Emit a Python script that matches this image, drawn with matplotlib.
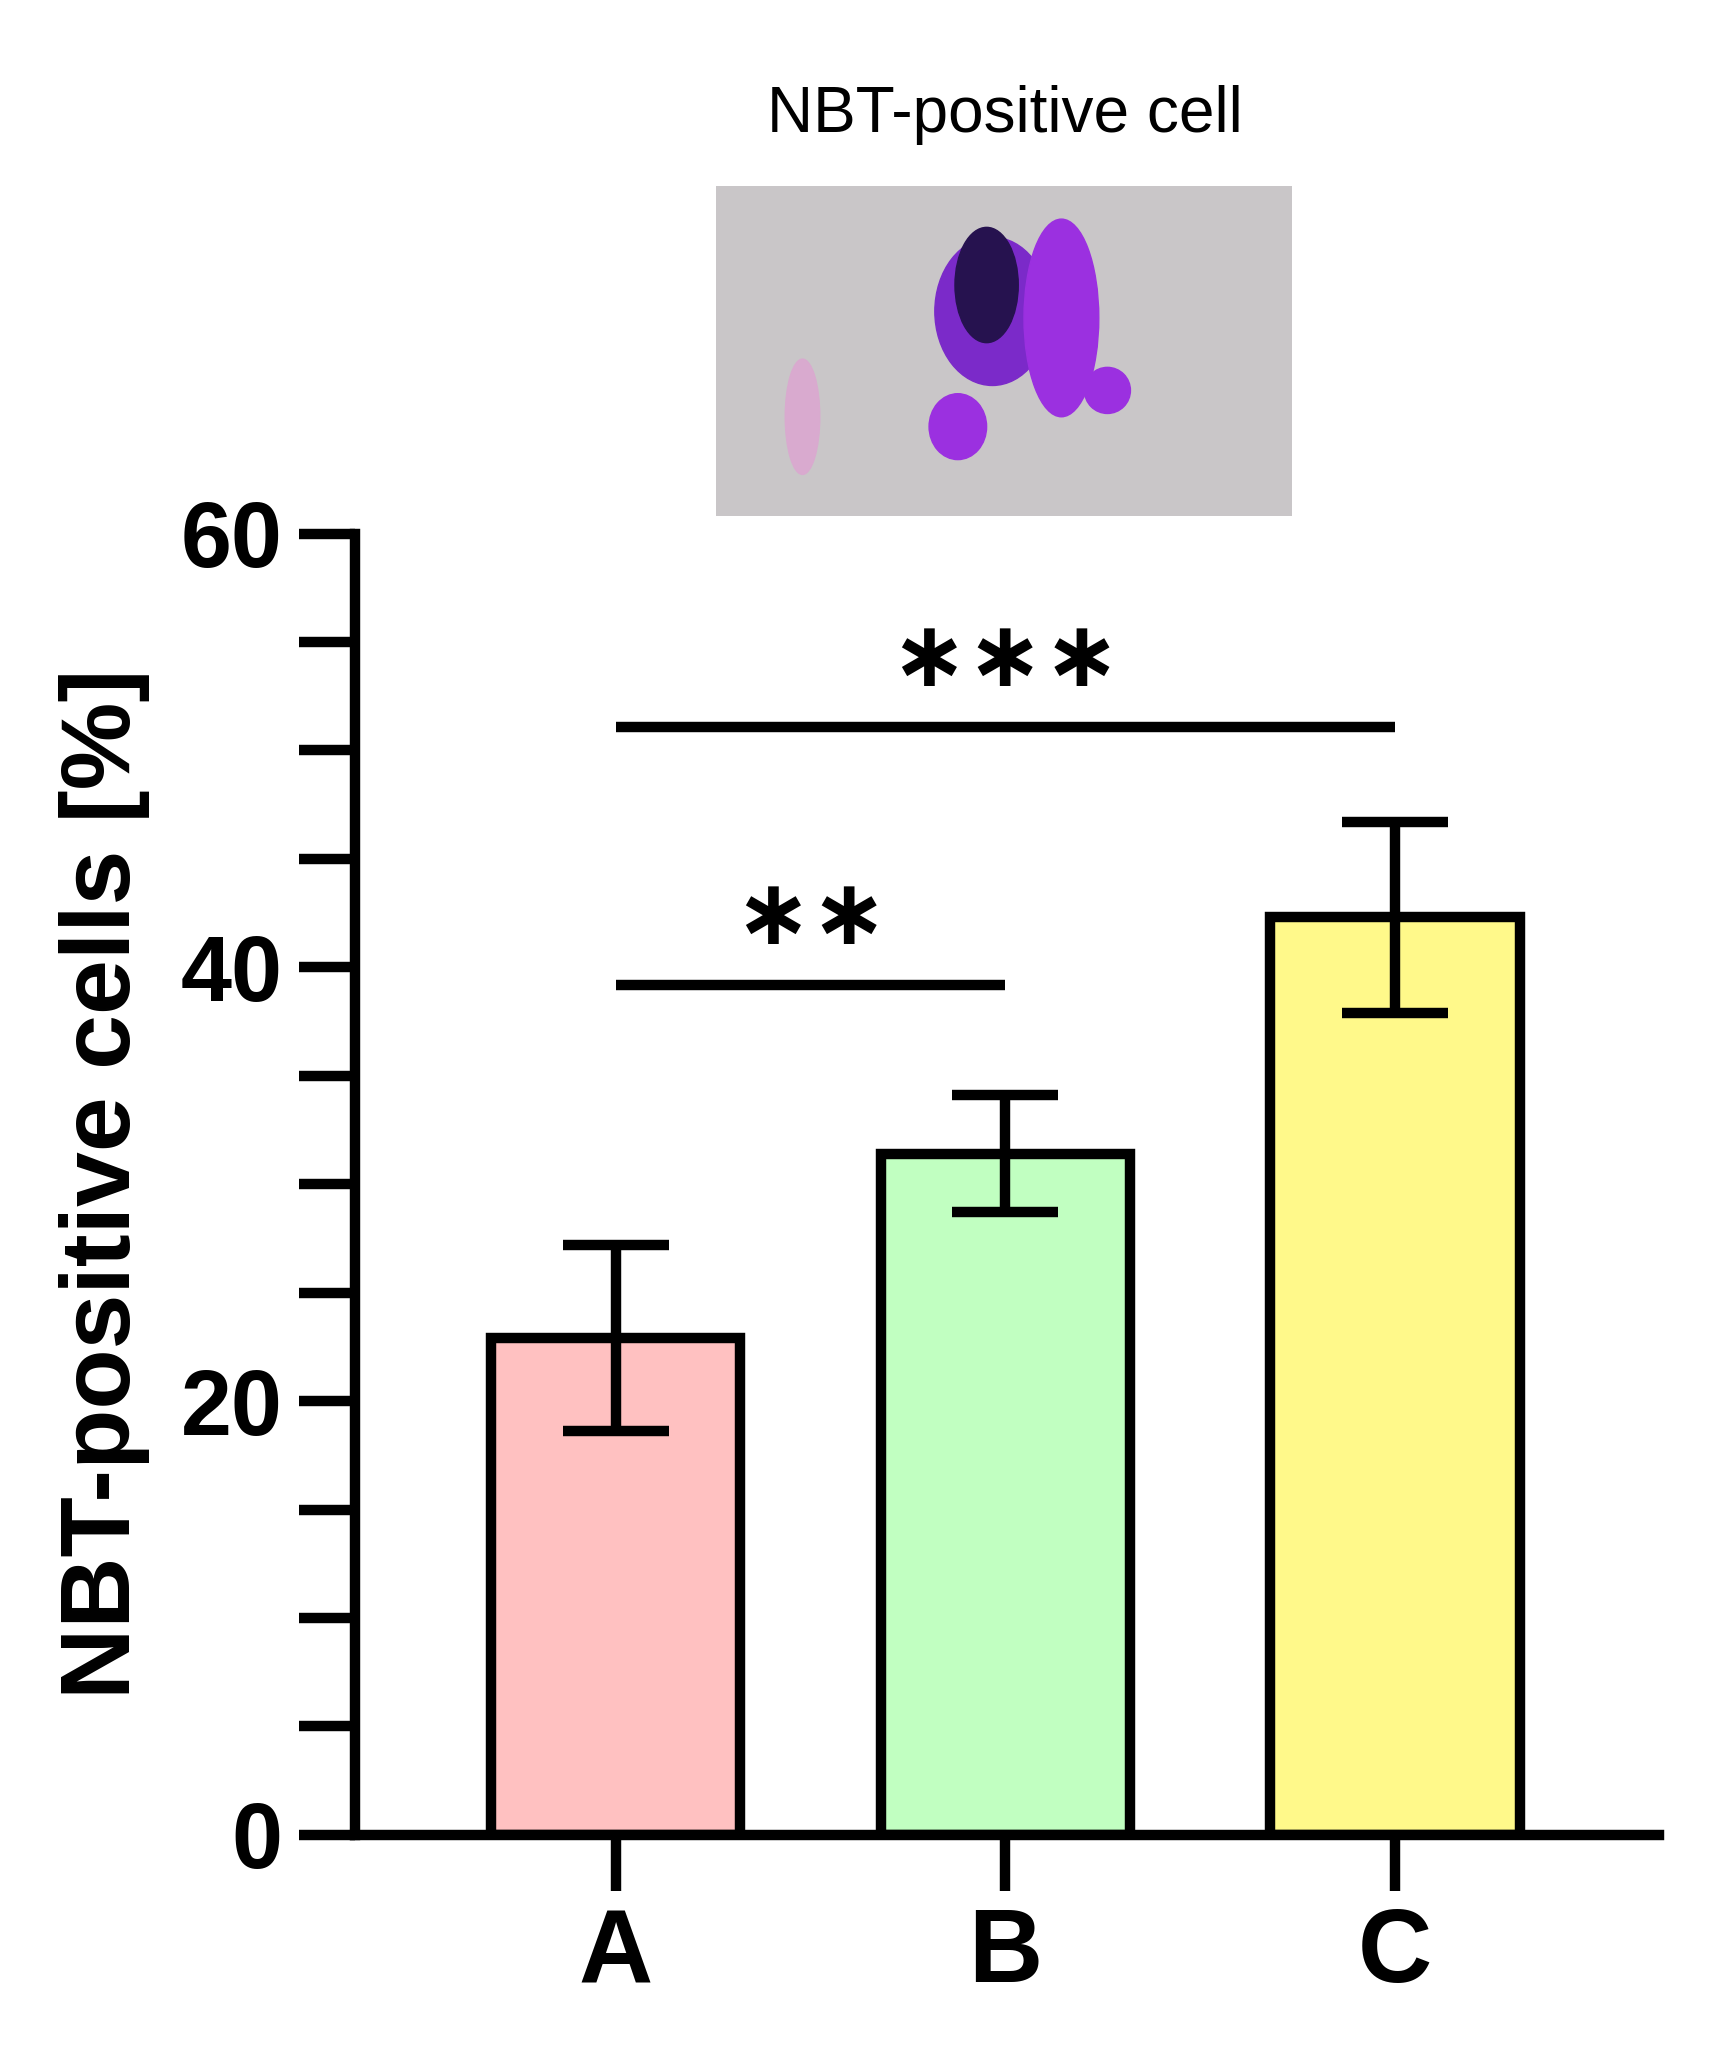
import matplotlib
matplotlib.use("Agg")
import matplotlib.pyplot as plt
from matplotlib.patches import Ellipse

categories = ["A", "B", "C"]
means = [22.9, 31.4, 42.3]
errors = [4.3, 2.7, 4.4]
colors = ["#FFC1C1", "#C1FFC1", "#FFF98A"]
sig_pairs = [(0, 1, 39.2, "∗∗"), (0, 2, 51.1, "∗∗∗")]

plt.rcParams['font.family'] = ['Liberation Sans', 'DejaVu Sans']
fig = plt.figure(figsize=(17.35, 20.46), dpi=100)
ax = fig.add_axes([0.2045, 0.1032, 0.7515, 0.636])
x = list(range(len(categories)))
lw = 7.5
ax.bar(x, means, width=0.64, color=colors, edgecolor="black", linewidth=lw, zorder=2)
ax.errorbar(x, means, yerr=errors, fmt="none", ecolor="black", elinewidth=lw,
            capsize=38, capthick=lw, zorder=3)
for i, j, y, s in sig_pairs:
    ax.plot([i, j], [y, y], color="black", lw=lw, solid_capstyle="butt")
    ax.text((i + j) / 2, y + 1.0, s, ha="center", va="bottom", fontsize=66,
            fontweight="bold", family=["DejaVu Sans"])
ax.set_xlim(-0.669, 2.676)
ax.set_ylim(0, 60)
ax.set_yticks([0, 20, 40, 60])
ax.set_yticks(range(0, 61, 5), minor=True)
ax.set_xticks(x)
ax.set_xticklabels(categories)
for s in ["top", "right"]:
    ax.spines[s].set_visible(False)
for s in ["left", "bottom"]:
    ax.spines[s].set_linewidth(lw)
ax.tick_params(axis="both", which="major", length=40, width=lw, labelsize=66, pad=12)
ax.tick_params(axis="x", labelsize=74)
ax.tick_params(axis="y", which="minor", length=40, width=lw)
for lab in ax.get_xticklabels() + ax.get_yticklabels():
    lab.set_fontweight("bold")
ax.set_ylabel("NBT-positive cells [%]", fontsize=71, fontweight="bold", labelpad=22)

# photo placeholder
pax = fig.add_axes([0.4128, 0.748, 0.3316, 0.161])
pax.set_xlim(0, 1); pax.set_ylim(0, 1)
pax.set_facecolor("#C9C6C8")
pax.add_patch(Ellipse((0.48, 0.62), 0.2, 0.45, color="#7B2AC9"))
pax.add_patch(Ellipse((0.6, 0.6), 0.13, 0.6, color="#9B30E0"))
pax.add_patch(Ellipse((0.47, 0.7), 0.11, 0.35, color="#26124F"))
pax.add_patch(Ellipse((0.42, 0.27), 0.1, 0.2, color="#9B30E0"))
pax.add_patch(Ellipse((0.68, 0.38), 0.08, 0.14, color="#9B30E0"))
pax.add_patch(Ellipse((0.15, 0.3), 0.06, 0.35, color="#D9AACF"))
pax.set_xticks([]); pax.set_yticks([])
for s in pax.spines.values():
    s.set_visible(False)
fig.text(0.579, 0.944, "NBT-positive cell", ha="center", va="center", fontsize=46)
fig.savefig("out.png")
